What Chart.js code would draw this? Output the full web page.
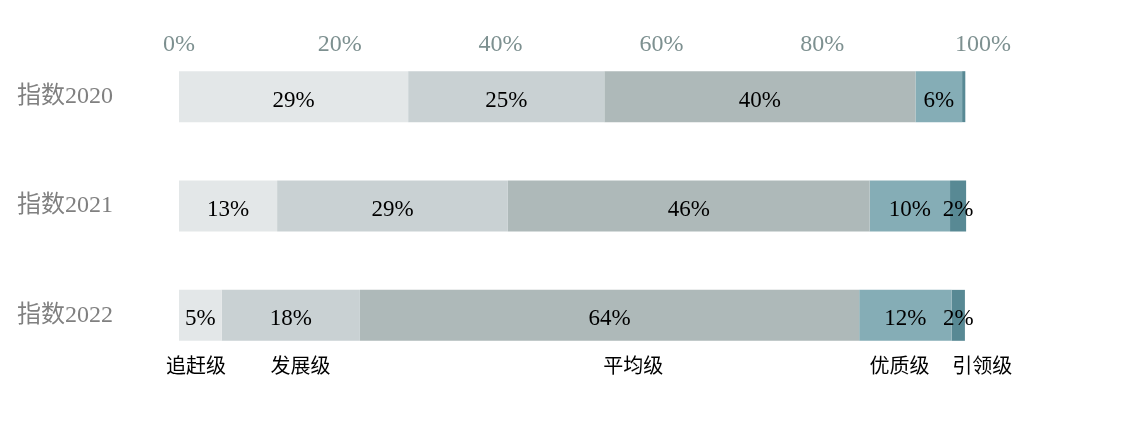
<!DOCTYPE html>
<html>
<head>
<meta charset="utf-8">
<script src="https://cdn.jsdelivr.net/npm/chart.js@4.4.1/dist/chart.umd.min.js"></script>
<style>
  html, body { margin: 0; padding: 0; background: #ffffff; }
  #wrap { position: relative; width: 1145px; height: 434px; }
</style>
</head>
<body>
<div id="wrap"><canvas id="c"></canvas></div>
<script>
// ---- data (values in axis units) ----
const categories = ['指数2020', '指数2021', '指数2022'];
const seriesNames = ['追赶级', '发展级', '平均级', '优质级', '引领级'];

const catchUp  = [28.5, 12.2, 5.3];
const develop  = [24.4, 28.7, 17.2];
const average  = [38.7, 45.0, 62.1];
const quality  = [5.8, 10.0, 11.5];
const leading  = [0.4, 2.0, 1.65];

// text shown inside the bars
const catchUpLabels = ['29%', '13%', '5%'];
const developLabels = ['25%', '29%', '18%'];
const averageLabels = ['40%', '46%', '64%'];
const qualityLabels = ['6%', '10%', '12%'];
const leadingLabels = ['', '2%', '2%'];

const tickValues = [0, 20, 40, 60, 80, 100];

const seriesValues = [catchUp, develop, average, quality, leading];
const seriesLabels = [catchUpLabels, developLabels, averageLabels, qualityLabels, leadingLabels];
const seriesColors = ['#e3e7e8', '#c9d1d3', '#aeb9b9', '#85adb6', '#588994'];
const nameAnchors = [2.1, 15.1, 56.5, 89.6, 99.9];

const barLabelPlugin = {
  id: 'barLabels',
  afterDatasetsDraw(chart) {
    const ctx = chart.ctx;
    ctx.save();
    ctx.font = '23px "Liberation Serif", serif';
    ctx.fillStyle = '#000000';
    ctx.textAlign = 'center';
    ctx.textBaseline = 'middle';
    chart.data.datasets.forEach((ds, di) => {
      const meta = chart.getDatasetMeta(di);
      meta.data.forEach((bar, i) => {
        const txt = ds.valueText[i];
        if (!txt) return;
        const p = bar.getProps(['x', 'y', 'base'], true);
        ctx.fillText(txt, (p.x + p.base) / 2, p.y + 4);
      });
    });
    ctx.restore();
  }
};

const seriesNamePlugin = {
  id: 'seriesNames',
  afterDraw(chart, args, opts) {
    const ctx = chart.ctx;
    const xs = chart.scales.x;
    ctx.save();
    ctx.font = '20px "Noto Sans CJK SC", sans-serif';
    ctx.fillStyle = '#000000';
    ctx.textAlign = 'center';
    ctx.textBaseline = 'middle';
    chart.data.datasets.forEach((ds, di) => {
      ctx.fillText(ds.label, xs.getPixelForValue(opts.anchors[di]), opts.y);
    });
    ctx.restore();
  }
};

new Chart(document.getElementById('c'), {
  type: 'bar',
  data: {
    labels: categories,
    datasets: seriesNames.map((name, i) => ({
      label: name,
      data: seriesValues[i],
      valueText: seriesLabels[i],
      backgroundColor: seriesColors[i],
      borderWidth: 0,
      categoryPercentage: 1,
      barPercentage: 0.466
    }))
  },
  options: {
    indexAxis: 'y',
    responsive: true,
    maintainAspectRatio: false,
    animation: false,
    layout: { padding: { left: 17, right: 162, top: 0, bottom: 64 } },
    plugins: {
      legend: { display: false },
      tooltip: { enabled: false },
      seriesNames: { anchors: nameAnchors, y: 365 }
    },
    scales: {
      x: {
        position: 'top',
        stacked: true,
        min: 0,
        max: 100,
        border: { display: false },
        grid: { display: false, drawTicks: false },
        afterFit(s) {
          s.height = 42;
          s._computeLabelArea = () => undefined;
        },
        afterBuildTicks(s) { s.ticks = tickValues.map(v => ({ value: v })); },
        ticks: {
          padding: -17,
          color: '#7d9090',
          font: { family: '"Liberation Serif", serif', size: 24 },
          callback: (v) => v + '%',
          maxRotation: 0,
          autoSkip: false
        }
      },
      y: {
        stacked: true,
        border: { display: false },
        grid: { display: false, drawTicks: false },
        afterFit(s) { s.width = 162; },
        ticks: {
          crossAlign: 'far',
          padding: 0,
          color: '#808080',
          font: { family: '"Liberation Serif", "Noto Sans CJK SC", serif', size: 24 }
        }
      }
    }
  },
  plugins: [barLabelPlugin, seriesNamePlugin]
});
</script>
</body>
</html>
